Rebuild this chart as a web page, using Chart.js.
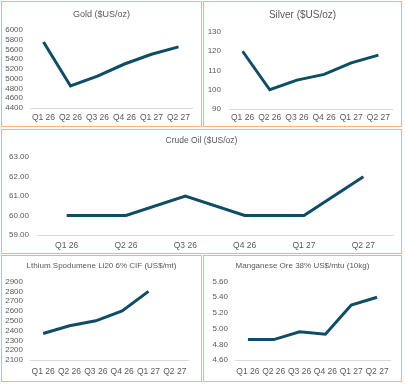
<!DOCTYPE html>
<html>
<head>
<meta charset="utf-8">
<script src="https://cdn.jsdelivr.net/npm/chart.js@4.4.1/dist/chart.umd.min.js"></script>
<style>
  body { margin: 0; background: #fff; width: 405px; height: 384px; position: relative; overflow: hidden; }
  .panel { position: absolute; border: 1.5px solid #f4b183; box-sizing: border-box; background: #fff; }
  .panel canvas { display: block; }
</style>
</head>
<body>
<div class="panel" style="left:1px;top:1px;width:201px;height:126px"><canvas id="gold"></canvas></div>
<div class="panel" style="left:203px;top:1px;width:199px;height:126px"><canvas id="silver"></canvas></div>
<div class="panel" style="left:1px;top:129px;width:401px;height:125px"><canvas id="crude"></canvas></div>
<div class="panel" style="left:1px;top:255px;width:201px;height:127px"><canvas id="lithium"></canvas></div>
<div class="panel" style="left:203px;top:255px;width:199px;height:127px"><canvas id="manganese"></canvas></div>

<script>
const quarters = ["Q1 26", "Q2 26", "Q3 26", "Q4 26", "Q1 27", "Q2 27"];

const goldPrices = [5750, 4850, 5050, 5300, 5500, 5650];
const silverPrices = [120, 100, 105, 108, 114, 118];
const crudePrices = [60, 60, 61, 60, 60, 62];
const lithiumPrices = [2370, 2450, 2500, 2600, 2800, null];
const manganesePrices = [4.86, 4.86, 4.96, 4.93, 5.30, 5.40];

const LINE = "#0f4d66";
const TEXT = "#595959";
const FONT = "'Liberation Sans', Arial, sans-serif";

// title box would otherwise stop at the right padding, centre it on the whole panel
const centerTitle = {
    id: "centerTitle",
    afterLayout(chart) {
        const t = chart.titleBlock;
        if (t) {
            t.left = 0;
            t.right = chart.width;
            t.width = chart.width;
        }
    }
};

// one small line chart per panel
function lineChart(id, title, values, y, lay) {
    const ctx = document.getElementById(id).getContext('2d');
    return new Chart(ctx, {
        type: "line",
        data: {
            labels: quarters,
            datasets: [{
                data: values,
                borderColor: LINE,
                borderWidth: 3,
                pointRadius: 0,
                tension: 0,
                fill: false
            }]
        },
        plugins: [centerTitle],
        options: {
            responsive: true,
            maintainAspectRatio: false,
            animation: false,
            layout: { padding: { top: 0, left: 0, right: lay.right, bottom: lay.bottom } },
            plugins: {
                legend: { display: false },
                tooltip: { enabled: false },
                title: {
                    display: true,
                    text: title,
                    color: TEXT,
                    font: { family: FONT, size: lay.titleSize, weight: "normal" },
                    padding: { top: lay.titleTop, bottom: lay.titleBottom }
                }
            },
            scales: {
                x: {
                    offset: true,
                    grid: { display: false, drawTicks: false, offset: true },
                    border: { display: true, color: "#d9d9d9", width: 1 },
                    ticks: { color: TEXT, font: { family: FONT, size: 8.5 }, padding: lay.xPad, maxRotation: 0, autoSkip: false },
                    afterFit: s => { s.height = lay.xHeight; }
                },
                y: {
                    min: y.min,
                    max: y.max,
                    grid: { display: false, drawTicks: false },
                    border: { display: false },
                    ticks: {
                        stepSize: y.step,
                        autoSkip: false,
                        color: TEXT,
                        padding: lay.yPad,
                        font: { family: FONT, size: 8 },
                        callback: v => v.toFixed(y.dec)
                    },
                    afterFit: s => { s.width = lay.yWidth; }
                }
            }
        }
    });
}

lineChart("gold", "Gold ($US/oz)", goldPrices,
    { min: 4400, max: 6000, step: 200, dec: 0 },
    { right: 9, bottom: 2, titleSize: 9, titleTop: 7, titleBottom: 10, xPad: 5, xHeight: 16, yPad: 7, yWidth: 28 });

lineChart("silver", "Silver ($US/oz)", silverPrices,
    { min: 90, max: 130, step: 10, dec: 0 },
    { right: 9, bottom: 2, titleSize: 10, titleTop: 7, titleBottom: 11, xPad: 4, xHeight: 15, yPad: 8, yWidth: 25 });

lineChart("crude", "Crude Oil ($US/oz)", crudePrices,
    { min: 59, max: 63, step: 1, dec: 2 },
    { right: 8, bottom: 2, titleSize: 8.5, titleTop: 6, titleBottom: 11, xPad: 6, xHeight: 16, yPad: 8, yWidth: 35 });

lineChart("lithium", "Lthium Spodumene Li20 6% CIF (US$/mt)", lithiumPrices,
    { min: 2100, max: 2900, step: 100, dec: 0 },
    { right: 13, bottom: 4, titleSize: 8, titleTop: 5, titleBottom: 11, xPad: 7, xHeight: 17, yPad: 7, yWidth: 28 });

lineChart("manganese", "Manganese Ore 38% US$/mtu (10kg)", manganesePrices,
    { min: 4.6, max: 5.6, step: 0.2, dec: 2 },
    { right: 11, bottom: 4, titleSize: 8, titleTop: 5, titleBottom: 11, xPad: 7, xHeight: 17, yPad: 7, yWidth: 31 });
</script>
</body>
</html>
